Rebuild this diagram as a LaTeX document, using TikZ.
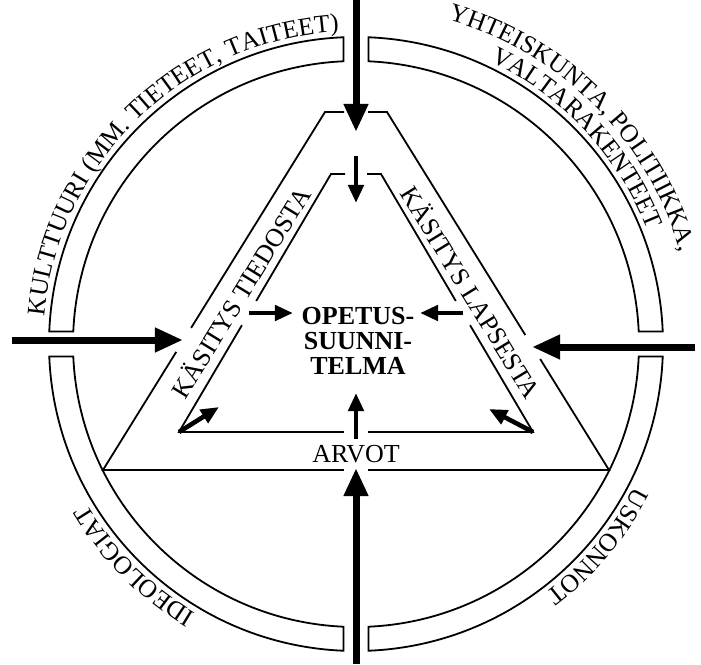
\documentclass[tikz,border=0pt]{standalone}
\usepackage{fontspec}
\setmainfont{Liberation Serif}
\usetikzlibrary{arrows.meta,calc,decorations.text}
\newcommand\ringfont{\fontsize{25.5}{25}\selectfont}

\begin{document}
\begin{tikzpicture}[x=1pt,y=1pt,
      seg/.style={draw,line width=1.8pt},
      edge/.style={line width=1.8pt},
      bigarrow/.style={line width=7pt,-{Triangle[length=28pt,width=23pt]}},
      smallarrow/.style={line width=4.6pt,-{Triangle[length=18pt,width=15pt]}},
      lbl/.style={font=\fontsize{26}{25}\selectfont,inner sep=0pt},
      ringtext/.style={decorate,decoration={text along path,text align=center,
        text={|\ringfont|#1}}}
    ]
      \useasboundingbox (-356,-320) rectangle (345,344);
      \def\Ro{307}\def\Ri{283}\def\g{12.5}
      \foreach \q in {0,90,180,270}
        \draw[seg] ({\q+asin(\g/\Ro)}:\Ro)
          arc[start angle={\q+asin(\g/\Ro)},end angle={\q+90-asin(\g/\Ro)},radius=\Ro pt]
          -- ({\q+90-asin(\g/\Ri)}:\Ri)
          arc[start angle={\q+90-asin(\g/\Ri)},end angle={\q+asin(\g/\Ri)},radius=\Ri pt] -- cycle;
      \path[ringtext={KULTTUURI (MM. TIETEET, TAITEET)}] (180:313) arc[start angle=180,end angle=88,radius=313pt];
      \path[ringtext={YHTEISKUNTA, POLITIIKKA,}] (84:337) arc[start angle=84,end angle=6,radius=337pt];
      \path[ringtext={VALTARAKENTEET}] (72:313) arc[start angle=72,end angle=14,radius=313pt];
      \path[ringtext={IDEOLOGIAT}] (255:313) arc[start angle=255,end angle=195,radius=313pt];
      \path[ringtext={USKONNOT}] (345:313) arc[start angle=345,end angle=295,radius=313pt];
      \coordinate (otl) at (-31,232);
      \coordinate (otlg) at (-12,232);
      \coordinate (otrg) at (12,232);
      \coordinate (otr) at (31,232);
      \coordinate (obl) at (-253,-126);
      \coordinate (obr) at (253,-126);
      \coordinate (itl) at (-25,170);
      \coordinate (itlg) at (-11,170);
      \coordinate (itrg) at (11,170);
      \coordinate (itr) at (25,170);
      \coordinate (ibl) at (-177,-88);
      \coordinate (ibr) at (177,-88);
      \draw[edge] (otlg) -- (otl) -- ($(otl)!0.603!(obl)$);
      \draw[edge] ($(otl)!0.670!(obl)$) -- (obl) -- ($(obl)!0.476!(obr)$);
      \draw[edge] ($(obl)!0.524!(obr)$) -- (obr) -- ($(obr)!0.310!(otr)$);
      \draw[edge] ($(obr)!0.377!(otr)$) -- (otr) -- (otrg);
      \draw[edge] (itlg) -- (itl) -- ($(itl)!0.492!(ibl)$);
      \draw[edge] ($(itl)!0.586!(ibl)$) -- (ibl) -- ($(ibl)!0.466!(ibr)$);
      \draw[edge] ($(ibl)!0.534!(ibr)$) -- (ibr) -- ($(ibr)!0.414!(itr)$);
      \draw[edge] ($(ibr)!0.508!(itr)$) -- (itr) -- (itrg);
      \node[lbl,font=\fontsize{26}{25}\selectfont\bfseries,align=center] (ops) at (2,3)
        {OPETUS-\\SUUNNI-\\TELMA};
      \node[lbl,anchor=base] (arvot) at (0,-118) {ARVOT};
      \node[lbl,rotate=58.5] (tiedosta) at (-116,52) {KÄSITYS TIEDOSTA};
      \node[lbl,rotate=-58.5] (lapsesta) at (116,52) {KÄSITYS LAPSESTA};
      \coordinate (tA) at (0,344);
      \coordinate (tB) at (0,212);
      \coordinate (tC) at (0,188);
      \coordinate (tD) at (0,141);
      \coordinate (lA) at (-344,4);
      \coordinate (lB) at (-173,4);
      \coordinate (rA) at (339,-3);
      \coordinate (rB) at (176,-3);
      \coordinate (bA) at (0,-320);
      \coordinate (bB) at (0,-124);
      \coordinate (bC) at (0,-95);
      \coordinate (bD) at (0,-49);
      \coordinate (lC) at (-107,31);
      \coordinate (lD) at (-63,31);
      \coordinate (rC) at (107,31);
      \coordinate (rD) at (64,31);
      \coordinate (dl) at (-137,-63);
      \coordinate (dr) at (133,-65);
      \draw[bigarrow] (tA) -- (tB);
      \draw[bigarrow] (lA) -- (lB);
      \draw[bigarrow] (rA) -- (rB);
      \draw[bigarrow] (bA) -- (bB);
      \draw[smallarrow] (tC) -- (tD);
      \draw[smallarrow] (bC) -- (bD);
      \draw[smallarrow] (lC) -- (lD);
      \draw[smallarrow] (rC) -- (rD);
      \draw[smallarrow] (ibl) -- (dl);
      \draw[smallarrow] (ibr) -- (dr);
    \end{tikzpicture}
\end{document}
